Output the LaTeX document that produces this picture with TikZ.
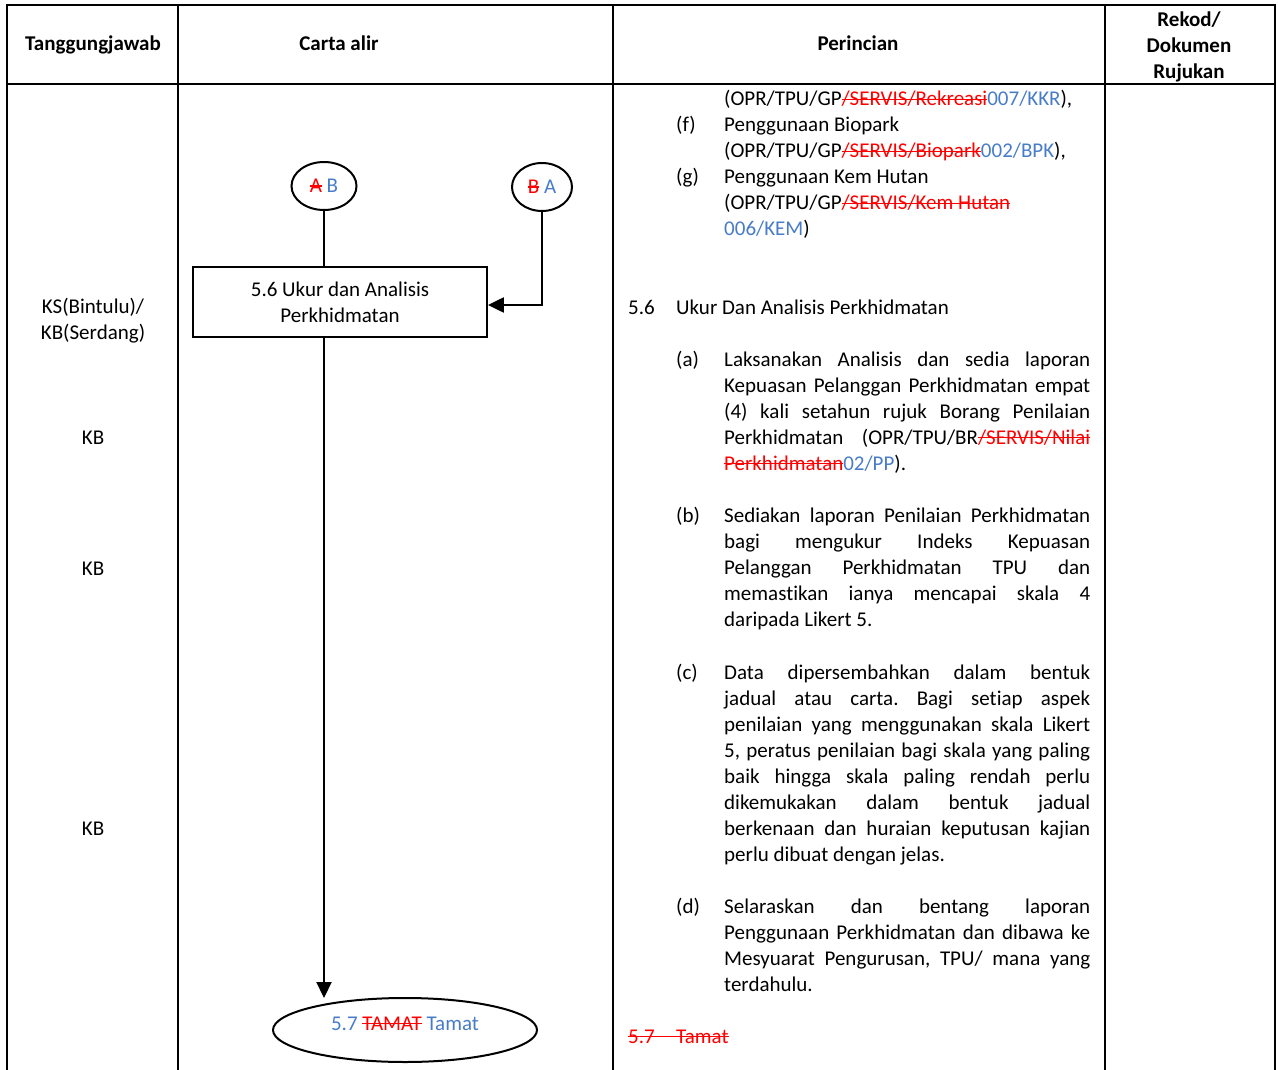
\documentclass[tikz,border=0pt]{standalone}
\usepackage{fontspec}
\setmainfont[Ligatures=NoCommon]{Carlito}
\usetikzlibrary{shapes.geometric,arrows.meta}
\definecolor{blu}{RGB}{72,124,200}
\definecolor{rd}{RGB}{255,0,0}
\newsavebox{\delbox}
\newcommand{\del}[1]{{\color{rd}\sbox{\delbox}{#1}\rlap{\rule[6pt]{\wd\delbox}{1.4pt}}\usebox{\delbox}}}
\newcommand{\ins}[1]{\textcolor{blu}{#1}}
\newcommand{\jl}[1]{\makebox[366pt][s]{#1}}
\frenchspacing
\begin{document}
\begin{tikzpicture}[x=1pt,y=-1pt,
  every node/.style={font=\fontsize{21}{26}\selectfont},
  txt/.style={anchor=base west, inner sep=0pt},
  ctr/.style={anchor=base, inner sep=0pt},
  hdr/.style={anchor=base, inner sep=0pt, font=\fontsize{21}{26}\selectfont\bfseries},
  grid/.style={line width=2.4pt},
  flow/.style={line width=2.2pt},
  tip/.style={-{Triangle[length=16pt,width=15pt]}},
  stepbox/.style={draw, line width=1.8pt, minimum width=294pt, minimum height=70pt, align=center, inner sep=0pt},
  conn/.style={draw, ellipse, line width=2pt, inner sep=0pt}]
\useasboundingbox (0,0) rectangle (1278,1070);
% table
\draw[grid] (6,5) -- (1276,5);
\draw[grid] (6,84) -- (1276,84);
\draw[grid] (7,4) -- (7,1070);
\draw[grid] (178,4) -- (178,1070);
\draw[grid] (613,4) -- (613,1070);
\draw[grid] (1105,4) -- (1105,1070);
\draw[grid] (1275,4) -- (1275,1070);
% headers
\node[hdr] (h1) at (93,51) {Tanggungjawab};
\node[hdr] (h2) at (339,51) {Carta alir};
\node[hdr] (h3) at (858,51) {Perincian};
\node[hdr] (h4a) at (1189,27) {Rekod/};
\node[hdr] (h4b) at (1189,53) {Dokumen};
\node[hdr] (h4c) at (1189,79) {Rujukan};
% column 1
\node[ctr] (r1a) at (93,313) {KS(Bintulu)/};
\node[ctr] (r1b) at (93,339) {KB(Serdang)};
\node[ctr] (r2) at (93,444) {KB};
\node[ctr] (r3) at (93,575) {KB};
\node[ctr] (r4) at (93,835) {KB};
% flowchart
\node[conn, minimum width=65pt, minimum height=48pt] (ab) at (324,186) {\del{A} \ins{B}};
\node[conn, minimum width=60pt, minimum height=48pt] (ba) at (542,187) {\del{B} \ins{A}};
\node[stepbox] (box) at (340,302) {5.6 Ukur dan Analisis\\Perkhidmatan};
\node[conn, minimum width=264pt, minimum height=64pt] (tamat) at (405,1030) {};
\node[ctr] (tamattxt) at (405,1030) {\ins{5.7} \del{TAMAT} \ins{Tamat}};
\coordinate (tipend) at (324,998);
\draw[flow] (ab.south) -- (ab.south |- box.north);
\draw[flow,tip] (ba.south) |- ([yshift=-3pt]box.east);
\draw[flow,tip] (box.south -| ab.south) -- (tipend);
% perincian
\node[txt] (p1) at (724,106) {(OPR/TPU/GP\del{/SERVIS/Rekreasi}\ins{007/KKR}),};
\node[txt] (fl) at (676,132) {(f)};
\node[txt] (f1) at (724,132) {Penggunaan Biopark};
\node[txt] (f2) at (724,158) {(OPR/TPU/GP\del{/SERVIS/Biopark}\ins{002/BPK}),};
\node[txt] (gl) at (676,184) {(g)};
\node[txt] (g1) at (724,184) {Penggunaan Kem Hutan};
\node[txt] (g2) at (724,210) {(OPR/TPU/GP\del{/SERVIS/Kem Hutan}};
\node[txt] (g3) at (724,236) {\ins{006/KEM})};
\node[txt] (s56) at (628,314) {5.6};
\node[txt] (s56t) at (676,314) {Ukur Dan Analisis Perkhidmatan};
% (a)
\node[txt] (al) at (676,366) {(a)};
\node[txt] (a1) at (724,366) {\jl{Laksanakan Analisis dan sedia laporan}};
\node[txt] (a2) at (724,392) {\jl{Kepuasan Pelanggan Perkhidmatan empat}};
\node[txt] (a3) at (724,418) {\jl{(4) kali setahun rujuk Borang Penilaian}};
\node[txt] (a4) at (724,444) {\jl{Perkhidmatan (OPR/TPU/BR\del{/SERVIS/Nilai}}};
\node[txt] (a5) at (724,470) {\del{Perkhidmatan}\ins{02/PP}).};
% (b)
\node[txt] (bl) at (676,522) {(b)};
\node[txt] (b1) at (724,522) {\jl{Sediakan laporan Penilaian Perkhidmatan}};
\node[txt] (b2) at (724,548) {\jl{bagi mengukur Indeks Kepuasan}};
\node[txt] (b3) at (724,574) {\jl{Pelanggan Perkhidmatan TPU dan}};
\node[txt] (b4) at (724,600) {\jl{memastikan ianya mencapai skala 4}};
\node[txt] (b5) at (724,626) {daripada Likert 5.};
% (c)
\node[txt] (cl) at (676,679) {(c)};
\node[txt] (c1) at (724,679) {\jl{Data dipersembahkan dalam bentuk}};
\node[txt] (c2) at (724,705) {\jl{jadual atau carta. Bagi setiap aspek}};
\node[txt] (c3) at (724,731) {\jl{penilaian yang menggunakan skala Likert}};
\node[txt] (c4) at (724,757) {\jl{5, peratus penilaian bagi skala yang paling}};
\node[txt] (c5) at (724,783) {\jl{baik hingga skala paling rendah perlu}};
\node[txt] (c6) at (724,809) {\jl{dikemukakan dalam bentuk jadual}};
\node[txt] (c7) at (724,835) {\jl{berkenaan dan huraian keputusan kajian}};
\node[txt] (c8) at (724,861) {perlu dibuat dengan jelas.};
% (d)
\node[txt] (dl) at (676,913) {(d)};
\node[txt] (d1) at (724,913) {\jl{Selaraskan dan bentang laporan}};
\node[txt] (d2) at (724,939) {\jl{Penggunaan Perkhidmatan dan dibawa ke}};
\node[txt] (d3) at (724,965) {\jl{Mesyuarat Pengurusan, TPU/ mana yang}};
\node[txt] (d4) at (724,991) {terdahulu.};
% 5.7
\node[txt, text=rd] (s57) at (628,1043) {\makebox[48pt][l]{5.7}Tamat};
\draw[rd, line width=1.4pt] ([yshift=6.5pt]s57.base west) -- ([yshift=6.5pt]s57.base east);
\end{tikzpicture}
\end{document}
